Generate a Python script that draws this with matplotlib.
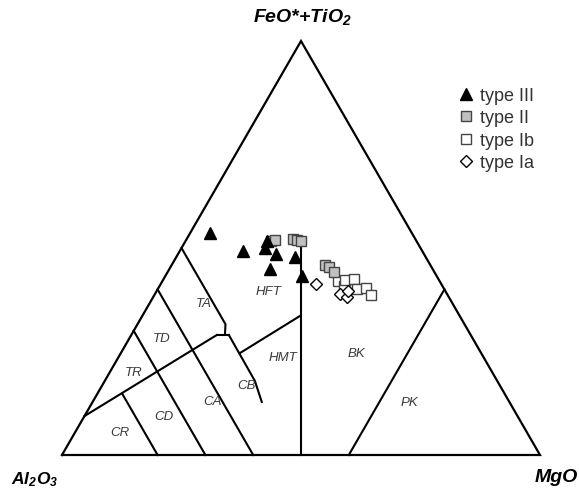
import numpy as np
import matplotlib.pyplot as plt
from matplotlib.lines import Line2D

plt.rcParams['font.family'] = ['Liberation Sans', 'DejaVu Sans']
plt.rcParams['mathtext.fontset'] = 'custom'
plt.rcParams['mathtext.rm'] = 'Liberation Sans:italic:bold'
plt.rcParams['mathtext.it'] = 'Liberation Sans:italic:bold'

# sample compositions, cation % as (Al2O3, FeO*+TiO2, MgO)
type_iii = np.array([
    [42.2, 53.6, 4.2], [37.5, 49.3, 13.2], [31.3, 51.7, 17.0], [32.5, 50.0, 17.5],
    [30.9, 48.6, 20.5], [34.0, 44.9, 21.1], [27.4, 47.8, 24.8], [28.2, 43.2, 28.6],
])
type_ii = np.array([
    [30.4, 51.7, 17.9], [29.5, 51.9, 18.6], [25.6, 52.2, 22.2], [24.9, 51.9, 23.2],
    [24.2, 51.7, 24.1], [22.0, 45.9, 32.1], [21.4, 45.4, 33.2], [21.0, 44.2, 34.8],
])
type_ib = np.array([
    [21.3, 42.0, 36.7], [20.6, 40.8, 38.6], [19.6, 42.3, 38.1], [17.7, 42.5, 39.8],
    [18.2, 40.1, 41.7], [16.3, 40.3, 43.4], [16.1, 38.6, 45.3],
])
type_ia = np.array([
    [26.2, 41.3, 32.5], [22.4, 38.9, 38.7], [21.3, 38.2, 40.5], [20.4, 39.6, 40.0],
])

# field boundaries of the Jensen cation plot
boundaries = [
    [[50, 50, 0], [50, 31.6, 18.4], [51.3, 29.2, 19.5]],
    [[53.1, 29, 17.9], [50.6, 29, 20.4]],
    [[50.6, 29, 20.4], [50.7, 17.9, 31.4], [51.8, 12.8, 35.4]],
    [[90.6, 9.4, 0], [53.1, 29, 17.9]],
    [[60, 40, 0], [60, 0, 40]],
    [[70, 30, 0], [70, 0, 30]],
    [[80, 14.7, 5.3], [80, 0, 20]],
    [[50, 0, 50], [24.5, 51, 24.5]],
    [[50.5, 24.6, 24.9], [33.4, 33.6, 33.0]],
    [[40, 0, 60], [0, 40, 60]],
]

field_names = ['TA', 'TD', 'TR', 'CR', 'CD', 'CA', 'CB', 'HMT', 'HFT', 'BK', 'PK']
field_pos = [
    [52, 36.7, 11.3], [65, 28.3, 6.7], [75, 20.0, 5.0], [85, 5.6, 9.4],
    [74, 9.4, 16.6], [62, 13.0, 25.0], [53, 16.9, 30.1], [42, 23.7, 34.3],
    [37, 39.6, 23.4], [26, 24.6, 49.4], [21, 12.8, 66.2],
]


def to_xy(comp):
    comp = np.asarray(comp, dtype=float)
    comp = comp / comp.sum(axis=-1, keepdims=True)
    fe, mg = comp[..., 1], comp[..., 2]
    return mg + fe / 2, fe * np.sqrt(3) / 2


fig = plt.figure(figsize=(5.79, 4.89), dpi=100)
ax = fig.add_axes([0, 0, 1, 1])
ax.set_xlim(-62 / 478, 517 / 478)
ax.set_ylim(-33 / 478, 456 / 478)
ax.axis('off')

# outer triangle
x, y = to_xy([[100, 0, 0], [0, 0, 100], [0, 100, 0], [100, 0, 0]])
ax.plot(x, y, color='black', lw=1.6, solid_joinstyle='miter')

for seg in boundaries:
    x, y = to_xy(seg)
    ax.plot(x, y, color='black', lw=1.5)

for name, pos in zip(field_names, field_pos):
    x, y = to_xy(pos)
    ax.text(x, y, name, fontsize=9.5, style='italic', color='#3a3a3a',
            ha='center', va='center')

x, y = to_xy(type_ib)
ax.plot(x, y, 's', ms=7, mfc='white', mec='#444444', mew=1.0, ls='none')
x, y = to_xy(type_ii)
ax.plot(x, y, 's', ms=7, mfc='#c0c0c0', mec='#444444', mew=1.0, ls='none')
x, y = to_xy(type_ia)
ax.plot(x, y, 'D', ms=6, mfc='white', mec='black', mew=1.0, ls='none')
x, y = to_xy(type_iii)
ax.plot(x, y, '^', ms=8, mfc='black', mec='black', ls='none')

# apex labels
ax.text(0.504, 439 / 478, r'FeO*+TiO$_2$', fontsize=14,
        weight='bold', style='italic', ha='center', va='center')
ax.text(-27 / 478, -24 / 478, r'Al$_2$O$_3$', fontsize=12.5, weight='bold',
        style='italic', ha='center', va='center')
ax.text(494 / 478, -22 / 478, 'MgO', fontsize=14, weight='bold',
        style='italic', ha='center', va='center')

handles = [
    Line2D([], [], marker='^', ls='none', ms=8, mfc='black', mec='black'),
    Line2D([], [], marker='s', ls='none', ms=7, mfc='#c0c0c0', mec='#444444'),
    Line2D([], [], marker='s', ls='none', ms=7, mfc='white', mec='#444444'),
    Line2D([], [], marker='D', ls='none', ms=6, mfc='white', mec='black'),
]
labels = ['type III', 'type II', 'type Ib', 'type Ia']
ax.legend(handles, labels, loc='upper left', bbox_to_anchor=(446 / 579, 1 - 79 / 489),
          frameon=False, fontsize=13, handletextpad=0.2, labelspacing=0.3,
          borderpad=0, handlelength=1.2, labelcolor='#333333')

fig.savefig('out.png', dpi=100)
